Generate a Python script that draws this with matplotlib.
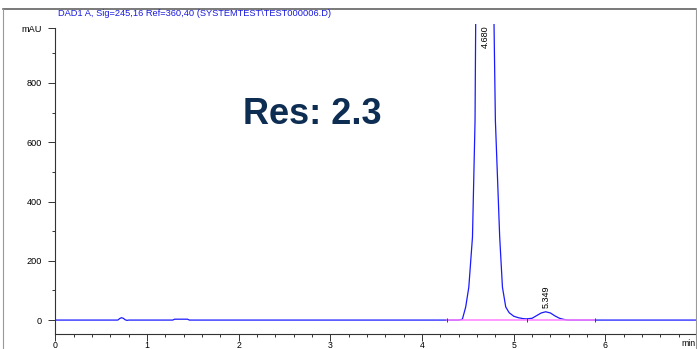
import matplotlib.pyplot as plt
from matplotlib.lines import Line2D
from matplotlib.ticker import MultipleLocator

plt.rcParams['font.family'] = ['Liberation Sans', 'DejaVu Sans']

# chromatogram trace (min, mAU)
time = [0.0, 0.68, 0.70, 0.72, 0.74, 0.76, 0.78, 0.80,
        1.28, 1.30, 1.44, 1.46,
        4.40, 4.44, 4.476, 4.51, 4.55, 4.578, 4.585, 4.63, 4.68, 4.73,
        4.785, 4.80, 4.847, 4.877, 4.913, 4.95, 5.00, 5.05, 5.10, 5.14,
        5.20, 5.25, 5.30, 5.349, 5.40, 5.45, 5.50, 5.55, 5.59, 7.0]
mau = [0, 0, 5, 8, 6, 1, -1, 0,
       0, 3, 3, 0,
       0, 3, 44, 111, 280, 673, 1000, 1600, 1800, 1600,
       1000, 673, 280, 111, 44, 25, 13, 8, 5, 4,
       6, 15, 24, 28, 24, 14, 6, 2, 0, 0]

# integration baseline and event marks
base_time = [4.27, 5.89]
base_mau = [0, 0]
event_times = [4.27, 5.14, 5.89]

# peak labels
peak_rt = [4.69, 5.355]
peak_label_y = [918, 40]
peak_labels = ['4.680', '5.349']

x_major = [0, 1, 2, 3, 4, 5, 6]
y_major = [0, 200, 400, 600, 800, 985]
y_labels = ['0', '200', '400', '600', '800', 'mAU']

title = 'DAD1 A, Sig=245,16 Ref=360,40 (SYSTEMTEST\\TEST000006.D)'

fig = plt.figure(figsize=(6.97, 3.49), dpi=100)
ax = fig.add_axes([55.5 / 697, 15 / 349, 1 - 55.5 / 697, 310 / 349])

ax.plot(time, mau, color='#1a1aff', lw=0.9, zorder=2)
ax.plot(base_time, base_mau, color='#ff7fff', lw=1.1, zorder=3)
ax.vlines(event_times, -7, 7, color='#404040', lw=0.7, zorder=4)

for rt, ly, lab in zip(peak_rt, peak_label_y, peak_labels):
    ax.text(rt, ly, lab, rotation=90, ha='center', va='bottom', fontsize=6.5)

ax.set_xlim(0, 7)
ax.set_ylim(-47, 999)

ax.spines['top'].set_visible(False)
ax.spines['right'].set_visible(False)
ax.spines['left'].set_bounds(-47, 985)
for s in ['left', 'bottom']:
    ax.spines[s].set_color('#333333')
    ax.spines[s].set_linewidth(0.8)

ax.set_xticks(x_major)
ax.xaxis.set_minor_locator(MultipleLocator(0.2))
ax.set_yticks(y_major)
ax.set_yticklabels(y_labels)
ax.yaxis.set_minor_locator(MultipleLocator(100))
ax.tick_params(axis='both', which='major', direction='out', length=5,
               width=0.7, labelsize=6.6, color='#333333')
ax.tick_params(axis='both', which='minor', direction='out', length=2.5,
               width=0.7, color='#333333')
ax.tick_params(axis='x', which='major', pad=0.2, labelsize=6.3)
ax.tick_params(axis='y', which='major', pad=5)

fig.text(696 / 697, 1 - 344 / 349, 'min', ha='right', va='center', fontsize=6.3)
fig.text(58 / 697, 1 - 14 / 349, title, ha='left', va='center',
         fontsize=6.7, color='#1a1adc')
fig.text(312 / 697, 1 - 115 / 349, 'Res: 2.3', ha='center', va='center',
         fontsize=26, fontweight='bold', color='#0d2d52')

# outer frame
fig.add_artist(Line2D([3 / 697, 696 / 697], [1 - 8.5 / 349] * 2,
                      transform=fig.transFigure, color='#555555', lw=1.1))
fig.add_artist(Line2D([3 / 697] * 2, [0, 1 - 8.5 / 349],
                      transform=fig.transFigure, color='#999999', lw=0.8))
fig.add_artist(Line2D([696 / 697] * 2, [0, 1 - 8.5 / 349],
                      transform=fig.transFigure, color='#999999', lw=0.8))

fig.savefig('out.png', dpi=100)
